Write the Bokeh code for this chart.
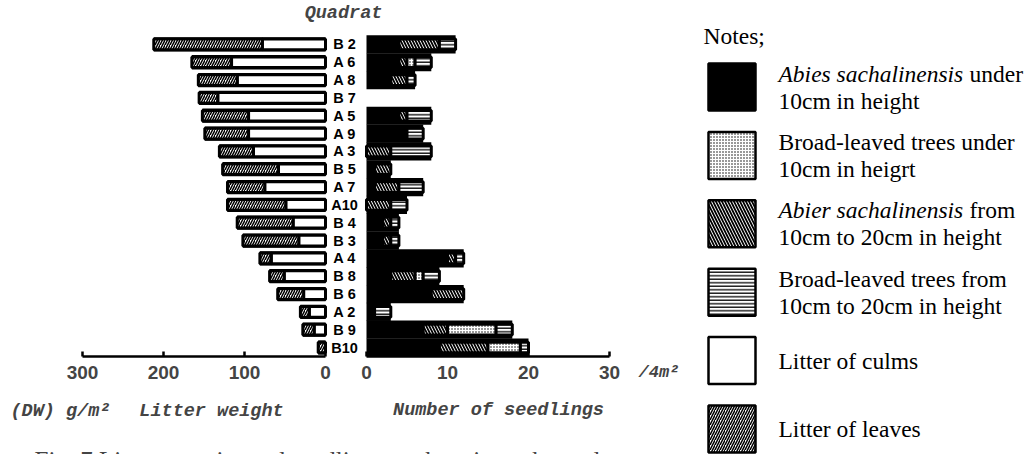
from bokeh.plotting import figure
from bokeh.models import ColumnDataSource, Range1d, LinearAxis, FixedTicker, Label
from bokeh.layouts import row
from bokeh.embed import file_html
from bokeh.resources import INLINE
from bokeh.core.properties import value

# ---------------- data ----------------
quadrats = ["B2", "A6", "A8", "B7", "A5", "A9", "A3", "B5", "A7",
            "A10", "B4", "B3", "A4", "B8", "B6", "A2", "B9", "B10"]
# litter weight (DW) g/m2
litter_culms = [78, 116, 109, 133, 95, 95, 89, 58, 75, 49, 40, 33, 67, 51, 27, 20, 14, 0]
litter_leaves = [134, 49, 48, 23, 57, 54, 42, 69, 46, 72, 69, 69, 14, 18, 32, 11, 14, 9]
# number of seedlings /4m2
abies_lt10 = [4, 4, 3, 0, 4, 5, 0, 1, 1, 0, 2, 2, 10, 3, 8, 1, 7, 9]
abies_10_20 = [5, 1, 2, 0, 1, 0, 3, 2, 3, 3, 1, 1, 1, 3, 4, 0, 3, 6]
broad_lt10 = [0, 1, 0, 0, 0, 0, 0, 0, 0, 0, 0, 0, 0, 1, 0, 0, 6, 4]
broad_10_20 = [2, 2, 1, 0, 3, 2, 5, 0, 3, 2, 1, 1, 1, 2, 0, 2, 2, 1]
litter_ticks = [0, 100, 200, 300]
seed_ticks = [0, 10, 20, 30]

legend_italic = ["Abies sachalinensis", "", "Abier sachalinensis", "", "", ""]
legend_line1 = ["under", "Broad-leaved trees under", "from",
                "Broad-leaved trees from", "Litter of culms", "Litter of leaves"]
legend_line2 = ["10cm in height", "10cm in heigrt", "10cm to 20cm in height",
                "10cm to 20cm in height", "", ""]
caption = "Fig. 7   Litter quantity and seedling numbers in each quadrat"

# ---------------- styles / layout ----------------
MONO = value("Liberation Mono")
SANS = value("Liberation Sans")
SERIF = value("Liberation Serif")
PAT = {
    "abies_lt10": dict(fill_color="black"),
    "broad_lt10": dict(fill_color="white", hatch_pattern=".", hatch_color="black",
                       hatch_scale=3, hatch_weight=1.0),
    "abies_10_20": dict(fill_color="white", hatch_pattern="\\", hatch_color="black",
                        hatch_scale=6, hatch_weight=1.8),
    "broad_10_20": dict(fill_color="white", hatch_pattern="-", hatch_color="black",
                        hatch_scale=3.5, hatch_weight=1.3),
    "culms": dict(fill_color="white"),
    "leaves": dict(fill_color="white", hatch_pattern="/", hatch_color="black",
                   hatch_scale=5, hatch_weight=1.5),
}

TOTAL_W, H = 1034, 454
W = 700                 # main chart canvas width
LIT_ZERO_PX, LIT_FULL_PX = 325, 82      # litter 0 and 300 positions
SEED_ZERO_PX, SEED_FULL_PX = 366, 609   # seedlings 0 and 30 positions
ROW_TOP_PX, ROW_PX = 35, 17.83

n = len(quadrats)
rows = list(range(1, n + 1))
qlabels = [q if len(q) == 3 else q[0] + " " + q[1:] for q in quadrats]
lit_total = [c + l for c, l in zip(litter_culms, litter_leaves)]

lit_k = 300 / (LIT_ZERO_PX - LIT_FULL_PX)       # units per px
seed_k = 30 / (SEED_FULL_PX - SEED_ZERO_PX)
lit_range = Range1d(LIT_ZERO_PX * lit_k, -(W - LIT_ZERO_PX) * lit_k)
seed_range = Range1d(-SEED_ZERO_PX * seed_k, (W - SEED_ZERO_PX) * seed_k)
y_top = 0.5 - ROW_TOP_PX / ROW_PX
y_bottom = y_top + H / ROW_PX
axis_y = n + 0.5

p = figure(width=W, height=H, output_backend="svg", toolbar_location=None,
           x_range=lit_range, y_range=Range1d(y_bottom, y_top),
           x_axis_location=None, y_axis_location=None, min_border=0)
p.extra_x_ranges = {"seed": seed_range}
p.outline_line_color = None
p.grid.visible = False
p.background_fill_color = "white"
p.border_fill_color = "white"

# litter bars
src_l = ColumnDataSource(dict(row=rows, total=lit_total, culms=litter_culms))
p.hbar(y="row", left=0, right="total", height=0.8, fill_color="black", line_color=None, source=src_l)
cul = [(r, c) for r, c in zip(rows, litter_culms) if c > 0]
p.hbar(y=[r for r, _ in cul], left=0, right=[c for _, c in cul], height=0.6,
       line_color="black", line_width=3, **PAT["culms"])
p.hbar(y="row", left="culms", right="total", height=0.6, line_color="black", line_width=3,
       source=src_l, **PAT["leaves"])

# seedling bars
series = [("abies_lt10", abies_lt10), ("abies_10_20", abies_10_20),
          ("broad_lt10", broad_lt10), ("broad_10_20", broad_10_20)]
seed_total = [sum(v) for v in zip(abies_lt10, abies_10_20, broad_lt10, broad_10_20)]
st = [(r, t) for r, t in zip(rows, seed_total) if t > 0]
p.hbar(y=[r for r, _ in st], left=0, right=[t for _, t in st], height=1.02,
       fill_color="black", line_color=None, x_range_name="seed")
cum = [0] * n
for name, vals in series:
    ys, ls, rs = [], [], []
    for i, v in enumerate(vals):
        if v > 0:
            ys.append(rows[i]); ls.append(cum[i]); rs.append(cum[i] + v)
        cum[i] += v
    if name == "abies_lt10":
        continue
    p.hbar(y=ys, left=ls, right=rs, height=0.6, line_color="black", line_width=3,
           x_range_name="seed", **PAT[name])

# quadrat labels
p.text(x=0, y=rows, text=qlabels, x_range_name="seed", x_offset=-22,
       text_align="center", text_baseline="middle", text_font=SANS,
       text_font_style="bold", text_font_size="14.5px", text_color="black")

# axes (fixed at the bottom edge of the last row)
def style_axis(ax):
    ax.axis_line_width = 2.5
    ax.axis_line_color = "black"
    ax.major_tick_in = 5
    ax.major_tick_out = 0
    ax.major_tick_line_width = 2.5
    ax.minor_tick_line_color = None
    ax.major_label_text_font = "Liberation Sans"
    ax.major_label_text_font_style = "bold"
    ax.major_label_text_font_size = "19px"
    ax.major_label_standoff = 10

ax_l = LinearAxis(ticker=FixedTicker(ticks=litter_ticks), bounds=(0, 300), fixed_location=axis_y)
ax_s = LinearAxis(x_range_name="seed", ticker=FixedTicker(ticks=seed_ticks), bounds=(0, 30),
                  fixed_location=axis_y)
style_axis(ax_l)
style_axis(ax_s)
p.add_layout(ax_l, "below")
p.add_layout(ax_s, "below")

lab_style = dict(x_units="screen", y_units="screen", text_font="Liberation Mono",
                 text_font_style="bold italic", text_font_size="18.5px", text_baseline="middle")
def add_label(px, py, text, align="left", **kw):
    st_ = {**lab_style, **kw}
    p.add_layout(Label(x=px, y=H - py, text=text, text_align=align, **st_))

add_label(343, 13, "Quadrat", "center")
add_label(10, 411, "(DW) g/m\u00b2")
add_label(211, 411, "Litter weight", "center")
add_label(498, 410, "Number of seedlings", "center")
add_label(638, 372, "/4m\u00b2", text_font_size="17px")
add_label(34, 446, caption, text_font="Liberation Serif", text_font_style="normal",
          text_font_size="25px", text_baseline="top")

# ---------------- legend figure ----------------
LW = TOTAL_W - W
lg = figure(width=LW, height=H, output_backend="svg", toolbar_location=None,
            x_range=Range1d(0, LW), y_range=Range1d(H, 0),
            x_axis_location=None, y_axis_location=None, min_border=0)
lg.outline_line_color = None
lg.grid.visible = False

lg.text(x=[3], y=[35], text=["Notes;"], text_font=SERIF, text_font_size="23.5px",
        text_baseline="middle", text_color="black")
order = ["abies_lt10", "broad_lt10", "abies_10_20", "broad_10_20", "culms", "leaves"]
ITALIC_W = 191
for i, key in enumerate(order):
    cy = 86.5 + i * 68.4
    lg.rect(x=[31.5], y=[cy], width=47, height=47, line_color="black", line_width=2.5, **PAT[key])
    y1 = cy - 13.5 if legend_line2[i] else cy
    x1 = 78
    if legend_italic[i]:
        lg.text(x=[78], y=[y1], text=[legend_italic[i]], text_font=SERIF,
                text_font_style="italic", text_font_size="23.5px", text_baseline="middle")
        x1 = 78 + ITALIC_W
    lg.text(x=[x1], y=[y1], text=[legend_line1[i]], text_font=SERIF,
            text_font_size="23.5px", text_baseline="middle")
    if legend_line2[i]:
        lg.text(x=[78], y=[cy + 13.5], text=[legend_line2[i]], text_font=SERIF,
                text_font_size="23.5px", text_baseline="middle")

layout = row(p, lg)
open("out.html", "w").write(file_html(layout, INLINE))
